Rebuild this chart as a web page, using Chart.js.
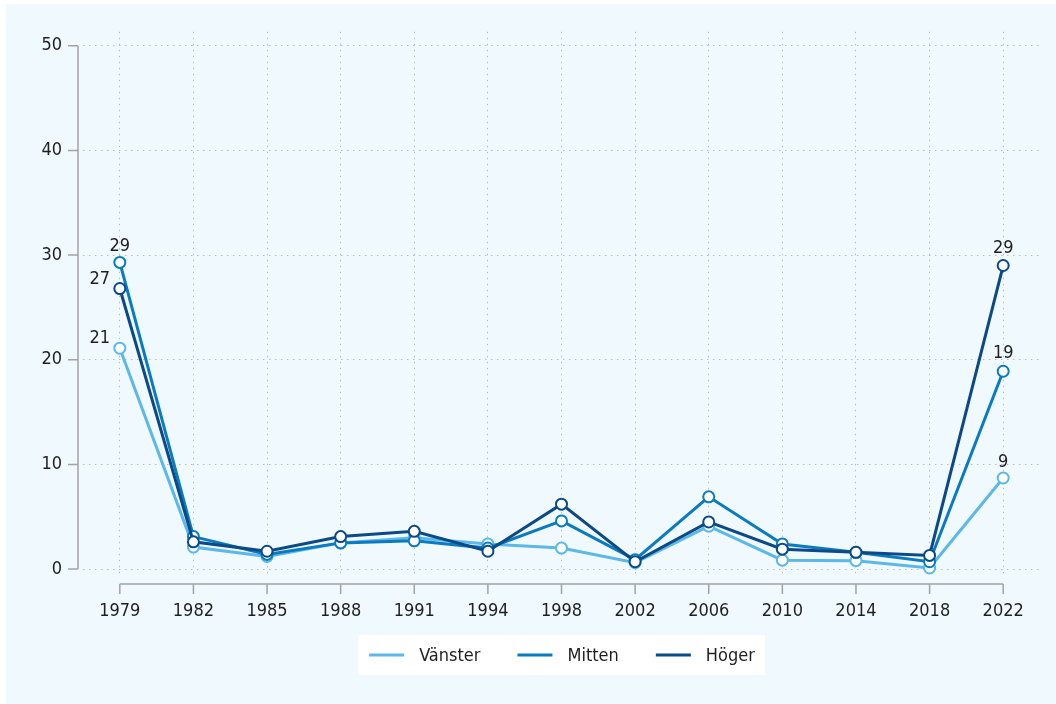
<!DOCTYPE html>
<html>
<head>
<meta charset="utf-8">
<script src="https://cdn.jsdelivr.net/npm/chart.js@4"></script>
<style>
  html, body { margin: 0; padding: 0; background: #ffffff; }
  #wrap { position: absolute; left: 0; top: 0; width: 1056px; height: 704px; }
</style>
</head>
<body>
<div id="wrap"><canvas id="chart"></canvas></div>
<script>
const years = ['1979', '1982', '1985', '1988', '1991', '1994', '1998', '2002', '2006', '2010', '2014', '2018', '2022'];
const vanster = [21.1, 2.1, 1.2, 2.5, 3.0, 2.4, 2.0, 0.6, 4.1, 0.85, 0.8, 0.1, 8.7];
const mitten = [29.3, 3.1, 1.4, 2.5, 2.7, 2.0, 4.6, 0.9, 6.9, 2.4, 1.6, 0.7, 18.9];
const hoger = [26.8, 2.6, 1.7, 3.1, 3.6, 1.7, 6.2, 0.7, 4.5, 1.9, 1.6, 1.3, 29.0];
const yTicks = [0, 10, 20, 30, 40, 50];

const FONT = "'Liberation Sans Narrow', 'DejaVu Sans Condensed', sans-serif";
const FONT_SIZE = 18;
const TEXT = '#1f1f1f';
const AXIS = '#a3a3a3';
const GRID = '#bababa';

// labels at the first and last year: [dataset, index, dx, dy]
const valueLabels = [
  [1, 0, 0, -11], [2, 0, -20, -5], [0, 0, -20, -5],
  [2, 12, 0, -13], [1, 12, 0, -13], [0, 12, 0, -11]
];

const decorations = {
  id: 'decorations',
  beforeDraw(chart) {
    const ctx = chart.ctx;
    ctx.save();
    ctx.fillStyle = '#ffffff';
    ctx.fillRect(0, 0, chart.width, chart.height);
    ctx.fillStyle = '#f0f9fd';
    ctx.fillRect(6, 4, chart.width - 6, chart.height - 4);
    ctx.restore();
  },
  afterDraw(chart) {
    const ctx = chart.ctx;
    const x = chart.scales.x, y = chart.scales.y;
    ctx.save();

    // axes set apart from the plot
    ctx.strokeStyle = AXIS;
    ctx.lineWidth = 1.5;
    ctx.beginPath();
    const ax = 78;
    ctx.moveTo(ax, y.getPixelForValue(0));
    ctx.lineTo(ax, y.getPixelForValue(50));
    yTicks.forEach(v => {
      const py = y.getPixelForValue(v);
      ctx.moveTo(ax - 10, py);
      ctx.lineTo(ax, py);
    });
    const ay = 584;
    ctx.moveTo(x.getPixelForValue(0), ay);
    ctx.lineTo(x.getPixelForValue(years.length - 1), ay);
    years.forEach((yr, i) => {
      const px = x.getPixelForValue(i);
      ctx.moveTo(px, ay);
      ctx.lineTo(px, ay + 10);
    });
    ctx.stroke();

    // value labels
    ctx.fillStyle = TEXT;
    ctx.font = FONT_SIZE + 'px ' + FONT;
    ctx.textAlign = 'center';
    ctx.textBaseline = 'alphabetic';
    valueLabels.forEach(([d, i, dx, dy]) => {
      const pt = chart.getDatasetMeta(d).data[i];
      const v = chart.data.datasets[d].data[i];
      ctx.fillText(String(Math.round(v)), pt.x + dx, pt.y + dy);
    });

    // legend
    const ds = chart.data.datasets;
    const sample = 35, gapText = 15, gapItem = 37, padL = 11, padR = 10;
    const widths = ds.map(d => ctx.measureText(d.label).width);
    let total = padL + padR + gapItem * (ds.length - 1);
    widths.forEach(w => { total += sample + gapText + w; });
    const cx = (chart.chartArea.left + chart.chartArea.right) / 2;
    const boxTop = 635, boxH = 40, midY = boxTop + boxH / 2;
    let lx = cx - total / 2;
    ctx.fillStyle = '#ffffff';
    ctx.fillRect(lx, boxTop, total, boxH);
    lx += padL;
    ctx.textAlign = 'left';
    ctx.textBaseline = 'middle';
    ds.forEach((d, i) => {
      ctx.strokeStyle = d.borderColor;
      ctx.lineWidth = 3;
      ctx.beginPath();
      ctx.moveTo(lx, midY);
      ctx.lineTo(lx + sample, midY);
      ctx.stroke();
      ctx.fillStyle = TEXT;
      ctx.fillText(d.label, lx + sample + gapText, midY + 1);
      lx += sample + gapText + widths[i] + gapItem;
    });
    ctx.restore();
  }
};

function series(label, data, color, order) {
  return {
    label: label,
    data: data,
    borderColor: color,
    backgroundColor: color,
    borderWidth: 3,
    pointRadius: 5.5,
    pointBorderWidth: 2,
    pointBackgroundColor: '#ffffff',
    pointBorderColor: color,
    tension: 0,
    order: order
  };
}

new Chart(document.getElementById('chart'), {
  type: 'line',
  data: {
    labels: years,
    datasets: [
      series('Vänster', vanster, '#5bb8e8', 3),
      series('Mitten', mitten, '#0a7bc0', 2),
      series('Höger', hoger, '#0b4a86', 1)
    ]
  },
  options: {
    responsive: true,
    maintainAspectRatio: false,
    animation: false,
    layout: { padding: { top: 30, right: 16, bottom: 0, left: 0 } },
    scales: {
      x: {
        offset: true,
        afterFit(scale) { scale.height = 127; },
        border: { display: false, dash: [1.5, 4.5] },
        grid: { offset: false, color: GRID, lineWidth: 1, drawTicks: false },
        ticks: { color: TEXT, font: { family: FONT, size: FONT_SIZE }, padding: 24, maxRotation: 0, autoSkip: false }
      },
      y: {
        min: -0.76,
        max: 51.33,
        afterBuildTicks(scale) { scale.ticks = yTicks.map(v => ({ value: v })); },
        afterFit(scale) { scale.width = 83; },
        border: { display: false, dash: [1.5, 4.5] },
        grid: { color: GRID, lineWidth: 1, drawTicks: false },
        ticks: { color: TEXT, font: { family: FONT, size: FONT_SIZE }, padding: 21 }
      }
    },
    plugins: {
      legend: { display: false },
      tooltip: { enabled: false }
    }
  },
  plugins: [decorations]
});
</script>
</body>
</html>
